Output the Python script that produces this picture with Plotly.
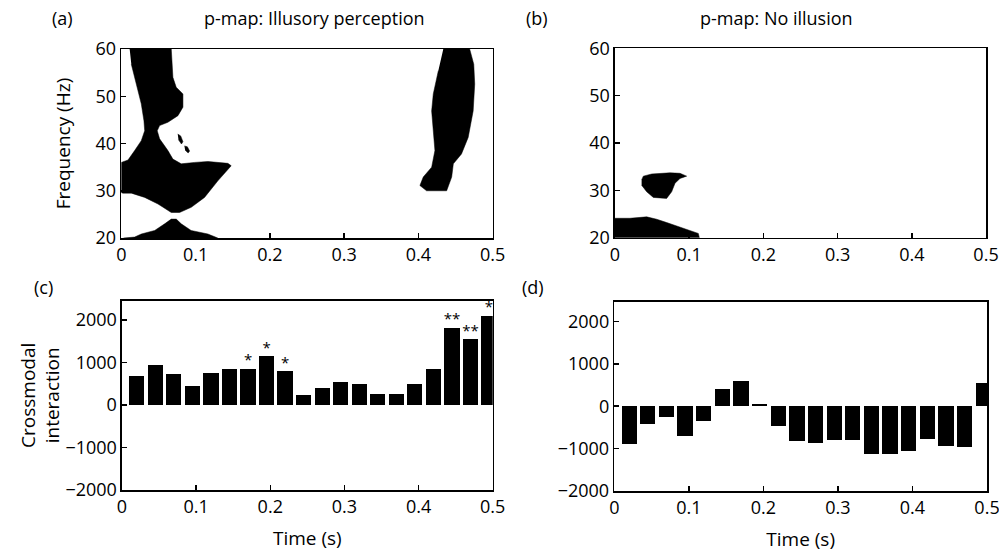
import plotly.graph_objects as go

# ---------------- data ----------------
# p-map (a): significant regions, outlines as (time s, frequency Hz)
a_main_t = [0.0113, 0.0673, 0.0695, 0.074, 0.083, 0.083, 0.0763, 0.0628, 0.0516, 0.0484, 0.0516,
            0.0628, 0.0695, 0.0807, 0.0987, 0.1166, 0.1435, 0.148, 0.130, 0.1121, 0.0942, 0.0785,
            0.0673, 0.0494, 0.0315, 0.0135, 0.0023, 0.0, 0.0, 0.009, 0.018, 0.0269, 0.0315,
            0.0305, 0.0269, 0.0202, 0.0135]
a_main_f = [60, 60, 54.0, 51.9, 50.5, 47.7, 45.9, 44.5, 43.8, 42.7, 41.0,
            38.5, 36.7, 35.7, 36.0, 36.2, 35.8, 35.3, 32.1, 28.6, 26.5, 25.4,
            25.4, 27.2, 28.6, 29.5, 29.5, 29.6, 36.0, 36.5, 38.5, 40.6, 42.7,
            44.8, 48.4, 52.6, 56.8]
a_spk1_t = [0.076, 0.080, 0.083, 0.081, 0.077]
a_spk1_f = [42.0, 41.6, 40.4, 39.9, 40.8]
a_spk2_t = [0.085, 0.089, 0.092, 0.090, 0.086]
a_spk2_f = [39.5, 39.3, 38.4, 38.0, 38.6]
a_low_t = [0.003, 0.018, 0.027, 0.045, 0.0584, 0.0673, 0.074, 0.0807, 0.094, 0.1166, 0.130]
a_low_f = [20.0, 20.2, 20.85, 21.6, 23.0, 24.0, 24.0, 23.0, 21.6, 20.85, 20.0]
a_right_t = [0.4335, 0.469, 0.4745, 0.4758, 0.4737, 0.467, 0.458, 0.447, 0.4448, 0.4416, 0.438,
             0.411, 0.402, 0.4065, 0.4178, 0.4222, 0.420, 0.4178, 0.420, 0.4268]
a_right_f = [60, 60, 56.8, 52.6, 46.9, 41.3, 37.8, 35.7, 32.9, 31.4, 30.0,
             30.0, 31.1, 32.9, 35.0, 38.5, 42.0, 46.9, 50.5, 55.4]

# p-map (b)
b_low_t = [0.0, 0.0202, 0.0427, 0.0562, 0.0696, 0.0876, 0.101, 0.1123, 0.1137, 0.0]
b_low_f = [24.1, 24.1, 24.4, 23.9, 23.2, 22.3, 21.6, 20.9, 20.0, 20.0]
b_blob_t = [0.0359, 0.0382, 0.0494, 0.0741, 0.0876, 0.0966, 0.0876, 0.0809, 0.0764, 0.0696,
            0.0517, 0.0427, 0.0359]
b_blob_f = [32.2, 33.0, 33.45, 33.7, 33.6, 33.0, 32.5, 31.5, 29.7, 28.3, 28.5, 29.7, 31.1]

# crossmodal interaction bars
time_bins = [0.02, 0.045, 0.07, 0.095, 0.12, 0.145, 0.17, 0.195, 0.22, 0.245,
             0.27, 0.295, 0.32, 0.345, 0.37, 0.395, 0.42, 0.445, 0.47, 0.495]
illusion_vals = [675, 940, 720, 440, 745, 855, 855, 1145, 790, 235,
                 390, 540, 500, 260, 260, 500, 855, 1820, 1545, 2100]
illusion_stars = ["", "", "", "", "", "", "*", "*", "*", "",
                  "", "", "", "", "", "", "", "**", "**", "*"]
noillusion_vals = [-880, -420, -260, -700, -350, 400, 600, 60, -460, -830,
                   -870, -800, -800, -1130, -1130, -1050, -780, -940, -970, 560]

x_ticks = [0, 0.1, 0.2, 0.3, 0.4, 0.5]
x_ticktext = ["0", "0.1", "0.2", "0.3", "0.4", "0.5"]
f_ticks = [20, 30, 40, 50, 60]
c_ticks = [-2000, -1000, 0, 1000, 2000]

FONT = "Open Sans"
fig = go.Figure()

def poly(t, f, xa, ya):
    fig.add_trace(go.Scatter(x=t, y=f, mode="lines", fill="toself", fillcolor="black",
                             line=dict(color="black", width=0.5), xaxis=xa, yaxis=ya,
                             showlegend=False, hoverinfo="skip"))

poly(a_main_t, a_main_f, "x", "y")
poly(a_spk1_t, a_spk1_f, "x", "y")
poly(a_spk2_t, a_spk2_f, "x", "y")
poly(a_low_t, a_low_f, "x", "y")
poly(a_right_t, a_right_f, "x", "y")
poly(b_low_t, b_low_f, "x2", "y2")
poly(b_blob_t, b_blob_f, "x2", "y2")

fig.add_trace(go.Bar(x=time_bins, y=illusion_vals, width=0.0205, marker=dict(color="black", line=dict(width=0)),
                     xaxis="x3", yaxis="y3", showlegend=False, hoverinfo="skip"))
fig.add_trace(go.Scatter(x=time_bins, y=illusion_vals, mode="text", text=illusion_stars,
                         textposition="top center", textfont=dict(family=FONT, size=15, color="black"),
                         xaxis="x3", yaxis="y3", showlegend=False, cliponaxis=False, hoverinfo="skip"))
fig.add_trace(go.Bar(x=time_bins, y=noillusion_vals, width=0.0205, marker=dict(color="black", line=dict(width=0)),
                     xaxis="x4", yaxis="y4", showlegend=False, hoverinfo="skip"))

ax_common = dict(showline=True, linecolor="black", linewidth=1.5, mirror=True, ticks="inside",
                 ticklen=5, tickwidth=1.5, tickcolor="black", showgrid=False, zeroline=False,
                 automargin=False, ticklabeloverflow="allow",
                 tickfont=dict(family=FONT, size=18, color="black"))
TITLE_FONT = dict(family=FONT, size=19, color="black")

xa = dict(ax_common, range=[0, 0.5], tickvals=x_ticks, ticktext=x_ticktext)
fig.update_layout(
    template="none",
    width=999, height=552, margin=dict(l=0, r=0, t=0, b=0, pad=0),
    paper_bgcolor="white", plot_bgcolor="white", bargap=0,
    font=dict(family=FONT, color="black"),
    xaxis=dict(xa, domain=[0.1214, 0.4932], anchor="y"),
    yaxis=dict(ax_common, domain=[0.5688, 0.9112], range=[20, 60], tickvals=f_ticks, anchor="x",
               title=dict(text="Frequency (Hz)", font=TITLE_FONT, standoff=20)),
    xaxis2=dict(xa, domain=[0.6156, 0.987], anchor="y2"),
    yaxis2=dict(ax_common, domain=[0.5694, 0.9125], range=[20, 60], tickvals=f_ticks, anchor="x2"),
    xaxis3=dict(xa, domain=[0.1221, 0.4932], anchor="y3",
                title=dict(text="Time (s)", font=TITLE_FONT, standoff=14)),
    yaxis3=dict(ax_common, domain=[0.1123, 0.4553], range=[-2000, 2455], tickvals=c_ticks, anchor="x3",
                title=dict(text="Crossmodal<br>interaction", font=TITLE_FONT, standoff=0)),
    xaxis4=dict(xa, domain=[0.6149, 0.988], anchor="y4",
                title=dict(text="Time (s)", font=TITLE_FONT, standoff=14)),
    yaxis4=dict(ax_common, domain=[0.1105, 0.4529], range=[-2000, 2460], tickvals=c_ticks, anchor="x4"),
)

def ann(text, x, y, size=18):
    fig.add_annotation(text=text, x=x / 999, y=1 - y / 552, xref="paper", yref="paper",
                       xanchor="center", yanchor="middle", showarrow=False,
                       font=dict(family=FONT, size=size, color="black"))

ann("(a)", 62, 18)
ann("(b)", 537, 18)
ann("(c)", 43, 287)
ann("(d)", 533, 287)
ann("p-map: Illusory perception", 314, 18)
ann("p-map: No illusion", 776, 18)

fig.write_html("out.html", config={"displayModeBar": False, "staticPlot": True},
               post_script="document.body.style.margin='0';document.body.style.overflow='hidden';")
